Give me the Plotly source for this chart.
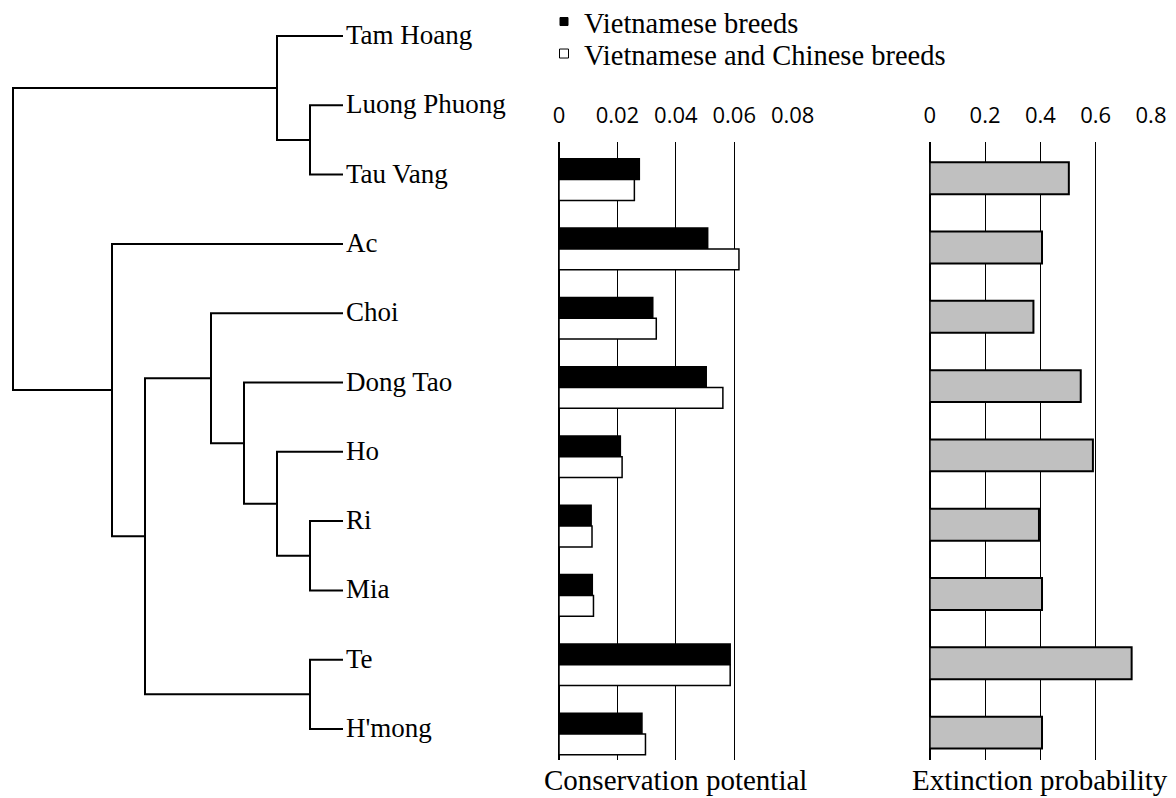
import plotly.graph_objects as go

W, H = 1176, 798

# ---------------- data ----------------
leaves = ["Tam Hoang", "Luong Phuong", "Tau Vang", "Ac", "Choi", "Dong Tao",
          "Ho", "Ri", "Mia", "Te", "H'mong"]

# dendrogram merges: (left child, right child, height)
merge_left = ["Luong Phuong", "Tam Hoang", "Ri", "Ho", "Dong Tao", "Choi", "Te", "c5", "Ac", "c1"]
merge_right = ["Tau Vang", "c0", "Mia", "c2", "c3", "c4", "H'mong", "c6", "c7", "c8"]
merge_height = [1, 2, 1, 2, 3, 4, 1, 6, 7, 10]

breeds = ["Tau Vang", "Ac", "Choi", "Dong Tao", "Ho", "Ri", "Mia", "Te", "H'mong"]
cons_viet = [0.0275, 0.0509, 0.0321, 0.0504, 0.0210, 0.0110, 0.0114, 0.0586, 0.0284]
cons_viet_chin = [0.0258, 0.0616, 0.0333, 0.0561, 0.0216, 0.0113, 0.0118, 0.0586, 0.0296]
ext_prob = [0.503, 0.406, 0.375, 0.546, 0.590, 0.395, 0.406, 0.730, 0.406]

cons_ticks = [0, 0.02, 0.04, 0.06, 0.08]
cons_ticktext = ["0", "0.02", "0.04", "0.06", "0.08"]
ext_ticks = [0, 0.2, 0.4, 0.6, 0.8]
ext_ticktext = ["0", "0.2", "0.4", "0.6", "0.8"]

series_names = ["Vietnamese breeds", "Vietnamese and Chinese breeds"]
title_cons = "Conservation potential"
title_ext = "Extinction probability"

# ---------------- build dendrogram lines ----------------
pos = {name: (i, 0.0) for i, name in enumerate(leaves)}  # name -> (y, height)
lx, ly = [], []
for k, (a, b, h) in enumerate(zip(merge_left, merge_right, merge_height)):
    ya, ha = pos[a]
    yb, hb = pos[b]
    lx += [ha, h, h, hb, None]
    ly += [ya, ya, yb, yb, None]
    pos["c%d" % k] = ((ya + yb) / 2.0, h)

FONT = "Liberation Serif, Times New Roman, serif"
TICKFONT = "Open Sans, Noto Sans, sans-serif"
fig = go.Figure()

fig.add_trace(go.Scatter(x=lx, y=ly, mode="lines", line=dict(color="black", width=2),
                         showlegend=False, hoverinfo="skip", xaxis="x", yaxis="y"))

ybar = [leaves.index(b) for b in breeds]

fig.add_trace(go.Bar(x=cons_viet, y=ybar, orientation="h", name=series_names[0],
                     marker=dict(color="black", line=dict(color="black", width=1.5)),
                     width=0.3, offset=-0.3, xaxis="x2", yaxis="y2", showlegend=False))
fig.add_trace(go.Bar(x=cons_viet_chin, y=ybar, orientation="h", name=series_names[1],
                     marker=dict(color="white", line=dict(color="black", width=1.5)),
                     width=0.3, offset=0.0, xaxis="x2", yaxis="y2", showlegend=False))
fig.add_trace(go.Bar(x=ext_prob, y=ybar, orientation="h", name=title_ext,
                     marker=dict(color="#c0c0c0", line=dict(color="black", width=2)),
                     width=0.46, offset=-0.25, showlegend=False, xaxis="x3", yaxis="y2"))

# legend entries (small square keys, as in the original figure)
fig.add_trace(go.Scatter(x=[None], y=[None], mode="markers", name=series_names[0],
                         marker=dict(symbol="square", size=8, color="black",
                                     line=dict(color="black", width=1)),
                         legend="legend", xaxis="x2", yaxis="y2", hoverinfo="skip"))
fig.add_trace(go.Scatter(x=[None], y=[None], mode="markers", name=series_names[1],
                         marker=dict(symbol="square", size=9, color="white",
                                     line=dict(color="black", width=1)),
                         legend="legend2", xaxis="x2", yaxis="y2", hoverinfo="skip"))

# pixel geometry helpers
leaf_top, leaf_step = 36.0, 69.3
bar_shift = 5.0
d_px0, d_step = 343.0, 33.0


def px(v):
    return v / W


def py(v):
    return 1 - v / H


dend_right = 560.0
panel_top, panel_bot = 142.0, 760.0

annotations = []
for i, name in enumerate(leaves):
    annotations.append(dict(x=0, y=i, xref="x", yref="y", text=name, showarrow=False,
                            xanchor="left", yanchor="middle", xshift=1, yshift=1,
                            font=dict(family=FONT, size=27, color="black")))
annotations.append(dict(x=px((559 + 792.7) / 2), y=py(780), xref="paper", yref="paper",
                        text=title_cons, showarrow=False, xanchor="center", yanchor="middle",
                        font=dict(family=FONT, size=29, color="black")))
annotations.append(dict(x=px((929.7 + 1151) / 2), y=py(780), xref="paper", yref="paper",
                        text=title_ext, showarrow=False, xanchor="center", yanchor="middle",
                        font=dict(family=FONT, size=29, color="black")))

legend_common = dict(xanchor="left", yanchor="middle", bgcolor="rgba(0,0,0,0)",
                     borderwidth=0, font=dict(family=FONT, size=28.5, color="black"),
                     itemwidth=30)

fig.update_layout(
    width=W, height=H,
    margin=dict(l=0, r=0, t=0, b=0, pad=0, autoexpand=False),
    paper_bgcolor="white", plot_bgcolor="rgba(0,0,0,0)",
    font=dict(family=FONT, color="black"),
    barmode="overlay",
    showlegend=True,
    legend=dict(x=px(544), y=py(22), **legend_common),
    legend2=dict(x=px(544), y=py(54), **legend_common),
    xaxis=dict(domain=[0, px(dend_right)],
               range=[d_px0 / d_step, (d_px0 - dend_right) / d_step],
               visible=False, fixedrange=True),
    yaxis=dict(domain=[0, 1],
               range=[(H - leaf_top) / leaf_step, -leaf_top / leaf_step],
               visible=False, fixedrange=True),
    xaxis2=dict(domain=[px(559), px(792.7)], range=[0, 0.08], anchor="y2", side="top",
                tickvals=cons_ticks, ticktext=cons_ticktext, ticks="", ticklabelstandoff=14,
                showgrid=True, gridcolor="black", gridwidth=1,
                zeroline=True, zerolinecolor="black", zerolinewidth=2,
                showline=False, fixedrange=True, automargin=False,
                tickfont=dict(family=TICKFONT, size=22, color="black")),
    xaxis3=dict(domain=[px(929.7), px(1151)], range=[0, 0.8], anchor="y2", side="top",
                tickvals=ext_ticks, ticktext=ext_ticktext, ticks="", ticklabelstandoff=14,
                showgrid=True, gridcolor="black", gridwidth=1,
                zeroline=True, zerolinecolor="black", zerolinewidth=2,
                showline=False, fixedrange=True, automargin=False,
                tickfont=dict(family=TICKFONT, size=22, color="black")),
    yaxis2=dict(domain=[py(panel_bot), py(panel_top)],
                range=[(panel_bot - leaf_top - bar_shift) / leaf_step,
                       (panel_top - leaf_top - bar_shift) / leaf_step],
                visible=False, fixedrange=True),
    annotations=annotations,
)

fig.write_html("out.html", config={"displayModeBar": False},
               post_script="document.body.style.margin='0px';")
